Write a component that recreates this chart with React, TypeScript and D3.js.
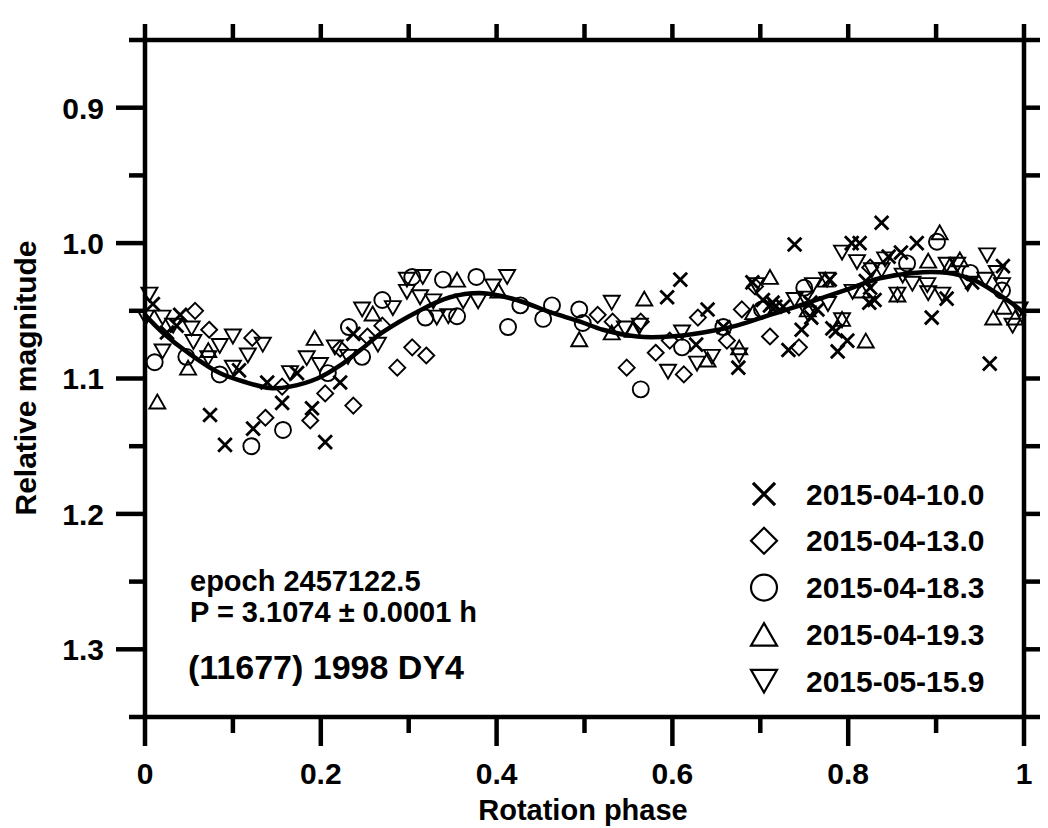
import React from 'react';
import * as d3 from 'd3';

const W = 1048;
const H = 828;

const phaseDomain: [number, number] = [0, 1];
const magDomain: [number, number] = [0.85, 1.35];

const xMajorTicks = [0, 0.2, 0.4, 0.6, 0.8, 1];
const xTickLabels = ['0', '0.2', '0.4', '0.6', '0.8', '1'];
const xMinorTicks = [0.1, 0.3, 0.5, 0.7, 0.9];
const topTicks = [0, 0.1, 0.2, 0.3, 0.4, 0.5, 0.6, 0.7, 0.8, 0.9, 1];
const yMajorTicks = [0.9, 1.0, 1.1, 1.2, 1.3];
const yTickLabels = ['0.9', '1.0', '1.1', '1.2', '1.3'];
const yMinorTicks = [0.85, 0.95, 1.05, 1.15, 1.25, 1.35];
const rightTicks = [0.85, 0.9, 0.95, 1.0, 1.05, 1.1, 1.15, 1.2, 1.25, 1.3, 1.35];

const legendLabels = ['2015-04-10.0', '2015-04-13.0', '2015-04-18.3', '2015-04-19.3', '2015-05-15.9'];
const legendShapes = ['cross', 'diamond', 'circle', 'up', 'down'];

// 2015-04-10.0  (x)
const s0410: [number, number][] = [
  [0.009, 1.045], [0.025, 1.066], [0.040, 1.053], [0.036, 1.061], [0.074, 1.127],
  [0.091, 1.149], [0.107, 1.094], [0.123, 1.137], [0.139, 1.103], [0.156, 1.118],
  [0.173, 1.096], [0.190, 1.122], [0.205, 1.147], [0.222, 1.103], [0.237, 1.067],
  [0.594, 1.040], [0.609, 1.027], [0.627, 1.075], [0.640, 1.049], [0.658, 1.062],
  [0.675, 1.092], [0.691, 1.029], [0.703, 1.042], [0.711, 1.046], [0.714, 1.044],
  [0.717, 1.047], [0.732, 1.079], [0.739, 1.001], [0.747, 1.064], [0.726, 1.047],
  [0.757, 1.044], [0.765, 1.049], [0.758, 1.055], [0.779, 1.027], [0.782, 1.063],
  [0.786, 1.065], [0.799, 1.072], [0.788, 1.080], [0.804, 1.000], [0.813, 1.000],
  [0.838, 0.985], [0.820, 1.028], [0.825, 1.033], [0.830, 1.042], [0.824, 1.044],
  [0.846, 1.010], [0.860, 1.007], [0.878, 1.000], [0.895, 1.055], [0.912, 1.041],
  [0.941, 1.029], [0.976, 1.017], [0.961, 1.089],
];

// 2015-04-13.0  (diamond)
const s0413: [number, number][] = [
  [0.057, 1.050], [0.073, 1.064], [0.122, 1.070], [0.156, 1.106], [0.137, 1.129],
  [0.188, 1.131], [0.205, 1.111], [0.222, 1.078], [0.237, 1.120], [0.253, 1.069],
  [0.270, 1.061], [0.304, 1.077], [0.320, 1.083], [0.287, 1.092], [0.515, 1.053],
  [0.532, 1.058], [0.564, 1.058], [0.581, 1.081], [0.548, 1.092], [0.613, 1.097],
  [0.597, 1.072], [0.629, 1.055], [0.662, 1.072], [0.679, 1.049], [0.711, 1.069],
  [0.744, 1.077], [0.825, 1.018], [0.694, 1.032],
];

// 2015-04-18.3  (circle)
const s0418: [number, number][] = [
  [0.011, 1.088], [0.047, 1.084], [0.085, 1.097], [0.121, 1.150], [0.157, 1.138],
  [0.208, 1.096], [0.232, 1.062], [0.247, 1.084], [0.270, 1.042], [0.304, 1.025],
  [0.339, 1.027], [0.377, 1.025], [0.319, 1.055], [0.355, 1.054], [0.427, 1.046],
  [0.413, 1.062], [0.453, 1.056], [0.463, 1.046], [0.494, 1.049], [0.498, 1.059],
  [0.564, 1.108], [0.611, 1.077], [0.658, 1.062], [0.702, 1.049], [0.750, 1.033],
  [0.867, 1.015], [0.901, 0.999], [0.939, 1.022], [0.975, 1.035],
];

// 2015-04-19.3  (triangle up)
const s0419: [number, number][] = [
  [0.014, 1.117], [0.049, 1.092], [0.072, 1.079], [0.193, 1.070], [0.259, 1.052],
  [0.355, 1.027], [0.402, 1.035], [0.494, 1.071], [0.531, 1.066], [0.555, 1.064],
  [0.568, 1.041], [0.640, 1.086], [0.676, 1.077], [0.692, 1.051], [0.711, 1.025],
  [0.754, 1.049], [0.774, 1.027], [0.793, 1.056], [0.815, 1.035], [0.820, 1.072],
  [0.856, 1.038], [0.891, 1.013], [0.904, 0.992], [0.916, 1.016], [0.927, 1.012],
  [0.965, 1.055], [0.977, 1.047], [0.990, 1.055],
];

// 2015-05-15.9  (triangle down)
const s0515: [number, number][] = [
  [0.005, 1.038], [0.001, 1.055], [0.020, 1.055], [0.032, 1.061], [0.053, 1.063],
  [0.055, 1.073], [0.020, 1.080], [0.072, 1.085], [0.085, 1.076], [0.100, 1.069],
  [0.117, 1.083], [0.134, 1.075], [0.100, 1.092], [0.165, 1.096], [0.184, 1.085],
  [0.199, 1.090], [0.216, 1.077], [0.231, 1.084], [0.247, 1.049], [0.265, 1.075],
  [0.282, 1.048], [0.298, 1.027], [0.316, 1.025], [0.298, 1.036], [0.313, 1.040],
  [0.328, 1.043], [0.332, 1.055], [0.345, 1.054], [0.362, 1.043], [0.379, 1.043],
  [0.396, 1.032], [0.412, 1.025], [0.531, 1.044], [0.546, 1.063], [0.563, 1.061],
  [0.595, 1.095], [0.611, 1.066], [0.628, 1.089], [0.645, 1.084], [0.676, 1.083],
  [0.695, 1.031], [0.739, 1.042], [0.751, 1.041], [0.760, 1.031], [0.754, 1.052],
  [0.777, 1.045], [0.776, 1.027], [0.793, 1.007], [0.810, 1.014], [0.805, 1.036],
  [0.827, 1.020], [0.838, 1.020], [0.842, 1.012], [0.862, 1.024], [0.873, 1.030],
  [0.890, 1.031], [0.891, 1.037], [0.793, 1.057], [0.856, 1.038], [0.907, 1.038],
  [0.912, 1.016], [0.924, 1.016], [0.936, 1.030], [0.956, 1.027], [0.958, 1.009],
  [0.969, 1.022], [0.975, 1.031], [0.987, 1.061], [0.995, 1.049],
];

// fitted lightcurve
const fitCurve: [number, number][] = [
  [0, 1.053], [0.02, 1.066], [0.049, 1.081], [0.085, 1.096], [0.116, 1.103],
  [0.142, 1.107], [0.165, 1.106], [0.196, 1.100], [0.225, 1.089], [0.245, 1.079],
  [0.27, 1.066], [0.309, 1.051], [0.347, 1.040], [0.385, 1.037], [0.423, 1.042],
  [0.461, 1.051], [0.495, 1.058], [0.521, 1.064], [0.56, 1.069], [0.597, 1.069],
  [0.635, 1.066], [0.673, 1.061], [0.711, 1.053], [0.745, 1.046], [0.8, 1.034],
  [0.836, 1.026], [0.874, 1.022], [0.912, 1.022], [0.942, 1.027], [0.969, 1.037],
  [0.995, 1.049], [1.0, 1.053],
];

const seriesList = [s0410, s0413, s0418, s0419, s0515];

const FONT = '"Liberation Sans", Arial, Helvetica, sans-serif';

function markerPath(shape: string, cx: number, cy: number, s: number): string {
  switch (shape) {
    case 'cross':
      return `M${cx - s},${cy - s}L${cx + s},${cy + s}M${cx - s},${cy + s}L${cx + s},${cy - s}`;
    case 'diamond':
      return `M${cx},${cy - s}L${cx + s},${cy}L${cx},${cy + s}L${cx - s},${cy}Z`;
    case 'up':
      return `M${cx},${cy - s * 0.87}L${cx + s},${cy + s * 0.87}L${cx - s},${cy + s * 0.87}Z`;
    case 'down':
      return `M${cx},${cy + s * 0.87}L${cx + s},${cy - s * 0.87}L${cx - s},${cy - s * 0.87}Z`;
    default:
      return '';
  }
}

function Marker({ shape, cx, cy, s, sw }: { shape: string; cx: number; cy: number; s: number; sw: number }) {
  if (shape === 'circle') {
    return <circle cx={cx} cy={cy} r={s} fill="none" stroke="#000" strokeWidth={sw} />;
  }
  return (
    <path
      d={markerPath(shape, cx, cy, shape === 'cross' ? s * 0.85 : s)}
      fill="none"
      stroke="#000"
      strokeWidth={shape === 'cross' ? sw * 1.5 : sw}
      strokeLinejoin="miter"
    />
  );
}

export default function App() {
  const left = 145, right = 1024, top = 40, bottom = 717;
  const x = d3.scaleLinear().domain(phaseDomain).range([left, right]);
  const y = d3.scaleLinear().domain(magDomain).range([top, bottom]);
  const line = d3
    .line<[number, number]>()
    .x((d) => x(d[0]))
    .y((d) => y(d[1]))
    .curve(d3.curveCatmullRom);

  const AW = 4.5;
  const majorLen = 29;
  const minorLen = 16;

  return (
    <svg
      width={W}
      height={H}
      viewBox={`0 0 ${W} ${H}`}
      style={{ position: 'absolute', left: 0, top: 0, background: '#fff' }}
    >
      <rect x={0} y={0} width={W} height={H} fill="#fff" />

      {/* data markers */}
      {seriesList.map((ser, i) => (
        <g key={i}>
          {ser.map((d, j) => (
            <Marker key={j} shape={legendShapes[i]} cx={x(d[0])} cy={y(d[1])} s={8} sw={1.9} />
          ))}
        </g>
      ))}

      {/* fitted curve */}
      <path d={line(fitCurve) || ''} fill="none" stroke="#000" strokeWidth={4.5} strokeLinecap="round" />

      {/* frame */}
      <g stroke="#000" strokeWidth={AW} strokeLinecap="butt">
        <line x1={left} x2={right} y1={top} y2={top} />
        <line x1={left} x2={right} y1={bottom} y2={bottom} />
        <line x1={left} x2={left} y1={top} y2={bottom} />
        <line x1={right} x2={right} y1={top} y2={bottom} />
        {xMajorTicks.map((t) => (
          <line key={'xb' + t} x1={x(t)} x2={x(t)} y1={bottom} y2={bottom + majorLen} />
        ))}
        {xMinorTicks.map((t) => (
          <line key={'xm' + t} x1={x(t)} x2={x(t)} y1={bottom} y2={bottom + minorLen} />
        ))}
        {topTicks.map((t) => (
          <line key={'xt' + t} x1={x(t)} x2={x(t)} y1={top} y2={top - minorLen} />
        ))}
        {yMajorTicks.map((t) => (
          <line key={'yl' + t} x1={left} x2={left - majorLen} y1={y(t)} y2={y(t)} />
        ))}
        {yMinorTicks.map((t) => (
          <line key={'ym' + t} x1={left} x2={left - minorLen} y1={y(t)} y2={y(t)} />
        ))}
        {rightTicks.map((t) => (
          <line key={'yr' + t} x1={right} x2={right + minorLen} y1={y(t)} y2={y(t)} />
        ))}
      </g>

      {/* tick labels */}
      <g fontFamily={FONT} fontWeight="bold" fontSize={30} fill="#000">
        {yMajorTicks.map((t, i) => (
          <text key={'yt' + t} x={104} y={y(t)} dy="0.36em" textAnchor="end">
            {yTickLabels[i]}
          </text>
        ))}
        {xMajorTicks.map((t, i) => (
          <text key={'xtl' + t} x={x(t)} y={784} textAnchor="middle">
            {xTickLabels[i]}
          </text>
        ))}
      </g>

      {/* axis titles */}
      <text x={583} y={820} textAnchor="middle" fontFamily={FONT} fontWeight="bold" fontSize={29}>
        Rotation phase
      </text>
      <text
        transform={`translate(36,378) rotate(-90)`}
        textAnchor="middle"
        fontFamily={FONT}
        fontWeight="bold"
        fontSize={30}
      >
        Relative magnitude
      </text>

      {/* annotations */}
      <g fontFamily={FONT} fontWeight="bold" fill="#000">
        <text x={190} y={591} fontSize={29}>epoch 2457122.5</text>
        <text x={190} y={622} fontSize={29}>P = 3.1074 ± 0.0001 h</text>
        <text x={188} y={679} fontSize={34}>(11677) 1998 DY4</text>
      </g>

      {/* legend */}
      <g>
        {legendLabels.map((lab, i) => {
          const cy = 494 + i * 46.8;
          return (
            <g key={lab}>
              <Marker shape={legendShapes[i]} cx={764} cy={cy} s={13} sw={2.2} />
              <text x={806} y={cy + 10.5} fontFamily={FONT} fontWeight="bold" fontSize={30}>
                {lab}
              </text>
            </g>
          );
        })}
      </g>
    </svg>
  );
}
